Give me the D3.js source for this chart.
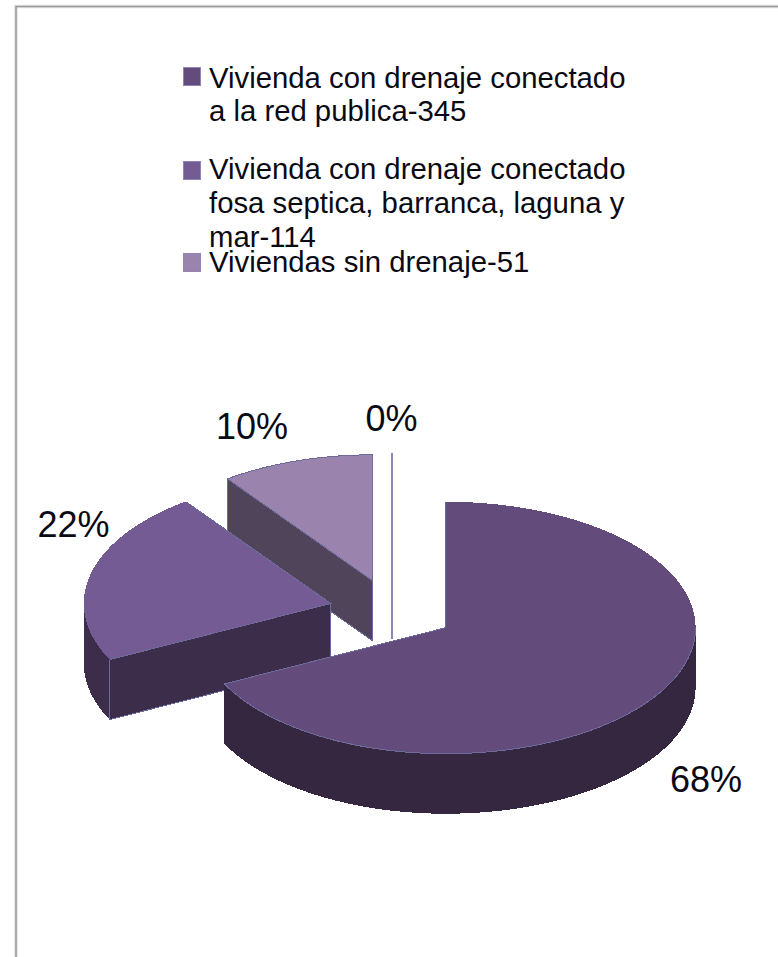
<!DOCTYPE html>
<html>
<head>
<meta charset="utf-8">
<script src="https://cdn.jsdelivr.net/npm/d3@7"></script>
<style>
html,body{margin:0;padding:0;background:#fff;overflow:hidden}
svg{display:block}
text{font-family:"Liberation Sans",Arial,sans-serif;fill:#0a0a14}
</style>
</head>
<body>
<svg id="chart" width="778" height="957"></svg>
<script>
// Housing counts by drainage type
const categories = ["Con red publica", "Con fosa septica", "Sin drenaje", "Otros"];
const values = [345, 114, 51, 0];
const percentLabels = ["68%", "22%", "10%", "0%"];
const topColors = ["#634c7c", "#755b93", "#9a84ae", "#8d85b5"];
const wallColors = ["#35273f", "#3c2d4a", "#4f4459", "#8d85b5"];
const legendLines = [
  ["Vivienda con drenaje conectado", "a la red publica-345"],
  ["Vivienda con drenaje conectado", "fosa septica, barranca, laguna y", "mar-114"],
  ["Viviendas sin drenaje-51"]
];

const svg = d3.select("#chart");
const W = 778, H = 957;

// Outer frame: soft halo under a grey rule
const framePath = `M16,${H} V6.5 H${W}`;
svg.append("path").attr("d", framePath).attr("fill", "none")
  .attr("stroke", "#e2e2e2").attr("stroke-width", 3.5);
svg.append("path").attr("d", framePath).attr("fill", "none")
  .attr("stroke", "#9a9a9a").attr("stroke-width", 1.5);

// Pie geometry: tilted disc, each slice pulled out along its bisector
const cx = 392, cy = 611, ry = 126, depth = 60, explode = 63;
const rxRight = 250, rxLeft = 247;
const tilt = ry / rxRight;
const pie = d3.pie().sort(null).value(d => d).startAngle(0).endAngle(2 * Math.PI);
const arcs = pie(values).map((d, i) => {
  const mid = (d.startAngle + d.endAngle) / 2;
  return {
    ...d, i,
    mx: cx + explode * Math.sin(mid),
    my: cy - explode * Math.cos(mid) * tilt
  };
});

const line = d3.line();
const pt = (a, s, dy = 0) => {
  const rx = a < Math.PI ? rxRight : rxLeft;
  return [s.mx + rx * Math.sin(a), s.my - ry * Math.cos(a) + dy];
};
const sweep = (a0, a1) => {
  const n = Math.max(1, Math.ceil(Math.abs(a1 - a0) / 0.02));
  return d3.range(n + 1).map(k => a0 + (a1 - a0) * k / n);
};

function drawSlice(s) {
  const g = svg.append("g").attr("shape-rendering", "crispEdges");
  const edge = "#6d6a9c";
  const tip = [s.mx, s.my];
  const a0 = s.startAngle, a1 = s.endAngle;

  if (a1 > a0) {
    const startP = pt(a0, s);
    // The cut face along the start radius shows when the slice begins on the left half
    if (a0 > Math.PI) {
      g.append("path")
        .attr("d", line([tip, startP, [startP[0], startP[1] + depth], [tip[0], tip[1] + depth]]) + "Z")
        .attr("fill", wallColors[s.i]).attr("stroke", edge).attr("stroke-width", 1);
    }
    // Outer wall along the front half of the rim
    const w0 = Math.max(a0, Math.PI / 2), w1 = Math.min(a1, Math.PI * 1.5);
    if (w1 > w0) {
      const upper = sweep(w0, w1).map(a => pt(a, s));
      const lower = sweep(w1, w0).map(a => pt(a, s, depth));
      g.append("path")
        .attr("d", line(upper.concat(lower)) + "Z")
        .attr("fill", wallColors[s.i]);
      // Upright seam where the wall meets the cut face
      if (w0 === a0) {
        const p = pt(a0, s);
        g.append("path").attr("d", line([p, [p[0], p[1] + depth]]))
          .attr("stroke", edge).attr("fill", "none");
      }
    }
    // Top face, with the lighter outline on the radial cuts
    const rim = sweep(a0, a1).map(a => pt(a, s));
    g.append("path")
      .attr("d", line([tip].concat(rim)) + "Z")
      .attr("fill", topColors[s.i]);
    g.append("path")
      .attr("d", line([rim[0], tip, rim[rim.length - 1]]))
      .attr("fill", "none").attr("stroke", edge).attr("stroke-width", 1);
    // Lighter rim where the largest and smallest slices meet the background or wall
    if (s.i !== 1) {
      const ra0 = s.i === 0 ? Math.PI / 2 : a0;
      g.append("path")
        .attr("d", line(sweep(ra0, a1).map(a => pt(a, s))))
        .attr("fill", "none").attr("stroke", edge).attr("stroke-width", 1);
    }
  } else {
    // An empty slice is only its upright seam
    const p = pt(a0, s);
    g.append("path")
      .attr("d", line([p, [tip[0], tip[1] + depth]]))
      .attr("fill", "none").attr("stroke", topColors[s.i]).attr("stroke-width", 2);
  }
}

// Paint back to front
[arcs[3], arcs[2], arcs[1], arcs[0]].forEach(drawSlice);

// Percentage labels
const labelPos = [[706, 792], [73.5, 537], [252, 439], [391.5, 431]];
svg.selectAll("text.pct").data(percentLabels).join("text")
  .attr("class", "pct")
  .attr("x", (d, i) => labelPos[i][0])
  .attr("y", (d, i) => labelPos[i][1])
  .attr("text-anchor", "middle")
  .attr("font-size", 36)
  .text(d => d);

// Legend
const legendBaselines = [[88, 121], [179, 213, 247], [272]];
const swatchY = [67.5, 161.5, 253.5];
legendLines.forEach((lines, i) => {
  svg.append("rect")
    .attr("x", 183.5).attr("y", swatchY[i])
    .attr("width", 17).attr("height", 18)
    .attr("fill", topColors[i]).attr("stroke", "#8d85b5");
  lines.forEach((t, j) => {
    svg.append("text")
      .attr("x", 209).attr("y", legendBaselines[i][j])
      .attr("font-size", 29.3)
      .text(t);
  });
});
</script>
</body>
</html>
